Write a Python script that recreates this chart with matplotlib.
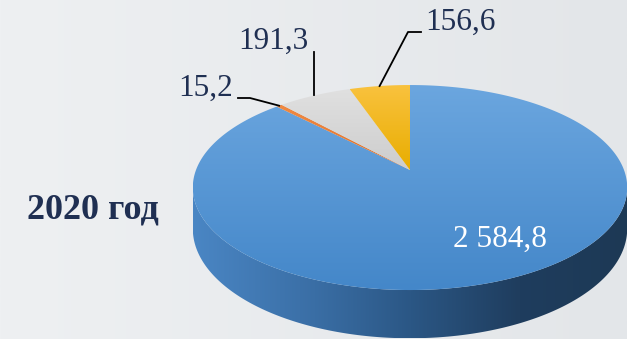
import numpy as np
import matplotlib.pyplot as plt
from matplotlib.patches import Polygon
from matplotlib.colors import LinearSegmentedColormap

# 2020 figures, clockwise from 12 o'clock
values = [2584.8, 15.2, 191.3, 156.6]
labels = ['2 584,8', '15,2', '191,3', '156,6']
title = '2020 год'
top_colors = [('#6ba6df', '#4487c9'), ('#f08a43', '#e0702a'),
              ('#e0e0e0', '#cdcdcd'), ('#f9c23e', '#e8ad00')]

W, H = 627, 339
fig = plt.figure(figsize=(W / 100, H / 100), dpi=100)
ax = fig.add_axes([0, 0, 1, 1])
ax.axis('off')

# pie geometry (pixels), simple perspective tilt
cx, cy = 410, 170
A, B, k = 214, 99.5, 0.171
depth = 40


def proj(phi_deg, r=1.0, dz=0.0):
    phi = np.radians(phi_deg)
    u = r * np.sin(phi)
    v = -r * np.cos(phi)
    w = 1 - k * v
    return cx + A * u / w, cy + B * v / w + dz / w


def grad_fill(xy, colors, horizontal=False, zorder=1):
    patch = Polygon(xy, closed=True, facecolor='none', edgecolor='none')
    ax.add_patch(patch)
    cmap = LinearSegmentedColormap.from_list('g', colors)
    g = np.linspace(0, 1, 256)
    img = g[None, :] if horizontal else g[:, None]
    xs, ys = xy[:, 0], xy[:, 1]
    im = ax.imshow(img, cmap=cmap, extent=(xs.min(), xs.max(), ys.max(), ys.min()),
                   aspect='auto', interpolation='bilinear', zorder=zorder)
    im.set_clip_path(patch)


# background
bg = np.linspace(0, 1, 256)[None, :]
ax.imshow(bg, cmap=LinearSegmentedColormap.from_list('bg', ['#eef0f2', '#e3e6e9']),
          extent=(0, W, H, 0), aspect='auto', zorder=0)

# side wall (front half, all blue)
phi_l = 180 + np.degrees(np.arccos(k))
phi_r = 180 - np.degrees(np.arccos(k))
ph = np.linspace(phi_r, phi_l, 200)
tx, ty = proj(ph)
bx, by = proj(ph[::-1], dz=depth)
side = np.column_stack([np.r_[tx, bx], np.r_[ty, by]])
side_cmap = [(0, '#4a86c4'), (0.28, '#3a6ea5'), (0.5, '#2b5785'),
             (0.75, '#1f3d5e'), (1.0, '#1d3955')]
grad_fill(side, side_cmap, horizontal=True, zorder=2)

# top wedges
total = sum(values)
angles = np.cumsum([0] + [v / total * 360 for v in values])
mids = []
for i, v in enumerate(values):
    a0, a1 = angles[i], angles[i + 1]
    ph = np.linspace(a0, a1, max(int(a1 - a0) * 2, 4))
    px, py = proj(ph)
    xy = np.column_stack([np.r_[cx, px], np.r_[cy, py]])
    grad_fill(xy, top_colors[i], zorder=3)
    mids.append((a0 + a1) / 2)

navy = '#1f2f52'
font = 'Liberation Serif'
fs = 22.5

# big slice label
ax.text(500, 239, labels[0], color='white', fontsize=fs, family=font,
        ha='center', va='center', zorder=5)

# leader lines for the small slices
ox, oy = proj(mids[1])
ax.plot([238, 250, ox], [98, 98, oy], color='black', lw=1.3, zorder=4)
ax.text(233, 88, labels[1], color=navy, fontsize=fs, family=font,
        ha='right', va='center', zorder=5)

gx, gy = proj(mids[2])
ax.plot([gx, gx], [gy, 52], color='black', lw=1.3, zorder=4)
ax.text(273, 41, labels[2], color=navy, fontsize=fs, family=font,
        ha='center', va='center', zorder=5)

yx, yy = proj(mids[3])
ax.plot([yx, 408, 421], [yy, 32, 32], color='black', lw=1.3, zorder=4)
ax.text(425, 22, labels[3], color=navy, fontsize=fs, family=font,
        ha='left', va='center', zorder=5)

ax.text(93, 210, title, color=navy, fontsize=26, fontweight='bold', family=font,
        ha='center', va='center', zorder=5)

ax.set_xlim(0, W)
ax.set_ylim(H, 0)
ax.set_aspect('auto')
fig.savefig('out.png', dpi=100)
